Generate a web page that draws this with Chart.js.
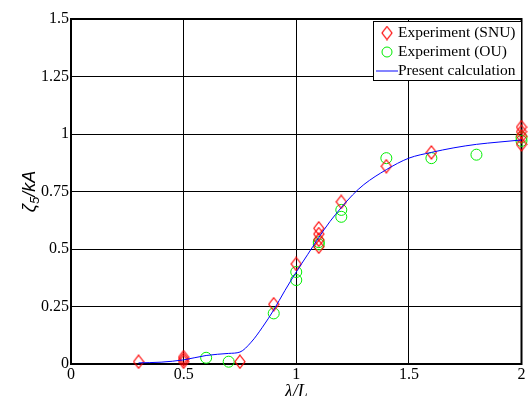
<!DOCTYPE html>
<html>
<head>
<meta charset="utf-8">
<script src="https://cdn.jsdelivr.net/npm/chart.js@4"></script>
<style>
  html, body { margin: 0; padding: 0; background: #fff; }
  #wrap { width: 528px; height: 396px; }
</style>
</head>
<body>
<div id="wrap"><canvas id="chart" width="528" height="396"></canvas></div>
<script>
// Experiment (SNU)
const snuX = [0.3, 0.5, 0.5, 0.5, 0.75, 0.9, 1.0, 1.1, 1.1, 1.1, 1.1, 1.2, 1.4, 1.6, 2.0, 2.0, 2.0, 2.0];
const snuY = [0.01, 0.01, 0.02, 0.03, 0.01, 0.26, 0.435, 0.51, 0.54, 0.565, 0.59, 0.705, 0.86, 0.92, 0.955, 0.99, 1.01, 1.03];
// Experiment (OU)
const ouX = [0.6, 0.7, 0.9, 1.0, 1.0, 1.1, 1.1, 1.2, 1.2, 1.4, 1.6, 1.8, 2.0, 2.0];
const ouY = [0.027, 0.01, 0.22, 0.40, 0.365, 0.52, 0.53, 0.67, 0.64, 0.895, 0.895, 0.91, 0.985, 0.97];
// Present calculation
const calcX = [0.3, 0.4, 0.5, 0.6, 0.7, 0.75, 0.8, 0.85, 0.9, 0.95, 1.0, 1.05, 1.1, 1.15, 1.2, 1.25, 1.3, 1.4, 1.5, 1.6, 1.7, 1.8, 1.9, 2.0];
const calcY = [0.005, 0.008, 0.018, 0.037, 0.046, 0.052, 0.095, 0.16, 0.235, 0.32, 0.40, 0.475, 0.55, 0.62, 0.68, 0.735, 0.78, 0.845, 0.895, 0.92, 0.94, 0.955, 0.965, 0.974];

const xTicks = [0, 0.5, 1, 1.5, 2];
const yTicks = [0, 0.25, 0.5, 0.75, 1, 1.25, 1.5];

const toPoints = (xs, ys) => xs.map((x, i) => ({ x: x, y: ys[i] }));

// tall hollow diamond marker
function makeDiamond(w, h, color) {
  const c = document.createElement('canvas');
  c.width = w + 2; c.height = h + 2;
  const g = c.getContext('2d');
  g.strokeStyle = color;
  g.lineWidth = 1.2;
  g.beginPath();
  g.moveTo(c.width / 2, 1);
  g.lineTo(c.width - 1, c.height / 2);
  g.lineTo(c.width / 2, c.height - 1);
  g.lineTo(1, c.height / 2);
  g.closePath();
  g.stroke();
  return c;
}
const diamond = makeDiamond(10, 13, '#ff0000');

const serif = "'Liberation Serif', 'Times New Roman', serif";

const framePlugin = {
  id: 'frame',
  beforeDatasetsDraw(chart) {
    const { ctx, chartArea: a } = chart;
    ctx.save();
    ctx.strokeStyle = '#000';
    ctx.lineWidth = 2;
    ctx.strokeRect(a.left, a.top, a.right - a.left, a.bottom - a.top);
    ctx.restore();
  },
  afterDraw(chart) {
    const { ctx, chartArea: a } = chart;
    ctx.save();
    // y axis title: zeta_5 / kA
    ctx.translate(30, (a.top + a.bottom) / 2);
    ctx.rotate(-Math.PI / 2);
    ctx.fillStyle = '#000';
    ctx.textBaseline = 'middle';
    const big = "italic 18px 'Liberation Sans', Arial, sans-serif";
    const small = "italic 13px 'Liberation Sans', Arial, sans-serif";
    ctx.font = big;
    const w1 = ctx.measureText('ζ').width;
    const w3 = ctx.measureText('/kA').width;
    ctx.font = small;
    const w2 = ctx.measureText('5').width;
    let x0 = -(w1 + w2 + w3) / 2;
    ctx.font = big;
    ctx.textAlign = 'left';
    ctx.fillText('ζ', x0, 0);
    ctx.font = small;
    ctx.fillText('5', x0 + w1, 5);
    ctx.font = big;
    ctx.fillText('/kA', x0 + w1 + w2, 0);
    ctx.restore();

    // x axis title
    ctx.save();
    ctx.fillStyle = '#000';
    ctx.font = 'italic 18px ' + serif;
    ctx.textAlign = 'center';
    ctx.textBaseline = 'top';
    ctx.fillText('λ/L', chart.scales.x.getPixelForValue(1), 383);
    ctx.restore();

    // legend box
    const lx = 373, ly = 21, lw = 148, lh = 59;
    ctx.save();
    ctx.fillStyle = '#fff';
    ctx.fillRect(lx, ly, lw, lh);
    ctx.strokeStyle = '#000';
    ctx.lineWidth = 1;
    ctx.strokeRect(lx + 0.5, ly + 0.5, lw, lh);
    ctx.font = '15.5px ' + serif;
    ctx.fillStyle = '#000';
    ctx.textBaseline = 'middle';
    ctx.textAlign = 'left';
    const rows = [ly + 12, ly + 31, ly + 50];
    const sx = 387;
    ctx.drawImage(diamond, sx - diamond.width / 2, rows[0] - diamond.height / 2);
    ctx.strokeStyle = '#00ee00';
    ctx.beginPath();
    ctx.arc(sx, rows[1], 5, 0, Math.PI * 2);
    ctx.stroke();
    ctx.strokeStyle = '#5a5aff';
    ctx.lineWidth = 1.5;
    ctx.beginPath();
    ctx.moveTo(376, rows[2]);
    ctx.lineTo(398, rows[2]);
    ctx.stroke();
    ctx.fillText('Experiment (SNU)', 398, rows[0]);
    ctx.fillText('Experiment (OU)', 398, rows[1]);
    ctx.fillText('Present calculation', 398, rows[2]);
    ctx.restore();
  }
};

new Chart(document.getElementById('chart'), {
  type: 'scatter',
  data: {
    datasets: [
      {
        label: 'Present calculation',
        data: toPoints(calcX, calcY),
        showLine: true,
        borderColor: '#0000ff',
        borderWidth: 1,
        pointRadius: 0,
        cubicInterpolationMode: 'monotone',
        order: 0
      },
      {
        label: 'Experiment (SNU)',
        data: toPoints(snuX, snuY),
        pointStyle: diamond,
        borderColor: '#ff0000',
        order: 1
      },
      {
        label: 'Experiment (OU)',
        data: toPoints(ouX, ouY),
        pointStyle: 'circle',
        pointRadius: 5.5,
        borderColor: '#00ee00',
        backgroundColor: 'rgba(0,0,0,0)',
        borderWidth: 1,
        order: 2
      }
    ]
  },
  options: {
    responsive: false,
    animation: false,
    clip: false,
    layout: { padding: { left: 0, top: 19, right: 5, bottom: 0 } },
    plugins: { legend: { display: false }, tooltip: { enabled: false } },
    scales: {
      x: {
        type: 'linear',
        min: 0, max: 2,
        afterFit(s) { s.height = 32; },
        afterBuildTicks(s) { s.ticks = xTicks.map(v => ({ value: v })); },
        ticks: {
          color: '#000',
          font: { family: serif, size: 16 },
          padding: 1,
          maxRotation: 0,
          callback: v => String(v)
        },
        grid: { color: '#000', lineWidth: 1, tickLength: 0 },
        border: { color: '#000', width: 2 }
      },
      y: {
        type: 'linear',
        min: 0, max: 1.5,
        afterFit(s) { s.width = 71; },
        afterBuildTicks(s) { s.ticks = yTicks.map(v => ({ value: v })); },
        ticks: {
          color: '#000',
          font: { family: serif, size: 16 },
          padding: 2,
          callback: v => String(v)
        },
        grid: { color: '#000', lineWidth: 1, tickLength: 0 },
        border: { color: '#000', width: 2 }
      }
    }
  },
  plugins: [framePlugin]
});
</script>
</body>
</html>
